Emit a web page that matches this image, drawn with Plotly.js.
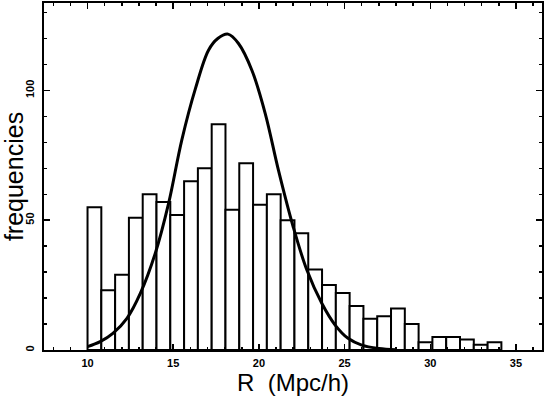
<!DOCTYPE html>
<html>
<head>
<meta charset="utf-8">
<script src="https://cdn.plot.ly/plotly-3.0.1.min.js"></script>
<style>
  body { margin: 0; background: #fff; }
  #plot { width: 545px; height: 396px; }
</style>
</head>
<body>
<div id="plot"></div>
<script>
// histogram bins (left edges, Mpc/h) and counts
var binLeft = [10.0, 10.805, 11.61, 12.415, 13.22, 14.025, 14.83, 15.635, 16.44, 17.245,
               18.05, 18.855, 19.66, 20.465, 21.27, 22.075, 22.88, 23.685, 24.49, 25.295,
               26.1, 26.905, 27.71, 28.515, 29.32, 30.125, 30.93, 31.735, 32.54, 33.345];
var counts = [55, 23, 29, 51, 60, 57, 52, 65, 70, 87,
              54, 72, 56, 60, 50, 45, 31, 25, 22, 17,
              12, 13, 16, 10, 3, 5, 5, 4, 2, 3];
var binWidth = 0.805;

// fitted curve, points
var curveX = [10, 10.74, 11.48, 12.3, 13.08, 13.95, 14.73, 15.5, 16.3, 17.06, 17.6, 18.2,
              18.81, 19.59, 20.37, 21.14, 22.0, 22.8, 23.67, 24.45, 25.2, 26.0, 27.0, 28.0];
var curveY = [1.3, 3.2, 6.4, 12.2, 21.8, 37.2, 56.5, 80.9, 100.8, 115.5, 120, 121.7,
              118.1, 107.8, 91.1, 69.3, 47.5, 30.8, 18, 9.6, 4.5, 1.9, 0.6, 0.1];

var bars = {
  type: 'bar',
  x: binLeft,
  y: counts,
  width: binWidth,
  offset: 0,
  marker: { color: '#ffffff', line: { color: '#000000', width: 2 } },
  hoverinfo: 'x+y'
};

var curve = {
  type: 'scatter',
  mode: 'lines',
  x: curveX,
  y: curveY,
  line: { color: '#000000', width: 3, shape: 'spline' }
};

var tickFont = { family: 'Liberation Sans, Arial, sans-serif', size: 11, color: '#000', weight: 'bold' };
var titleFamily = 'Liberation Sans, Arial, sans-serif';

var layout = {
  width: 545,
  height: 396,
  showlegend: false,
  paper_bgcolor: '#fff',
  plot_bgcolor: '#fff',
  margin: { l: 44, r: 3, t: 3, b: 46 },
  xaxis: {
    range: [7.46, 36.52],
    showgrid: false, zeroline: false,
    showline: true, linecolor: '#000', linewidth: 2, mirror: 'allticks',
    ticks: 'inside', ticklen: 6, tickwidth: 1.5, tickcolor: '#000',
    dtick: 5, tick0: 0,
    minor: { dtick: 1, ticks: 'inside', ticklen: 3, tickwidth: 1.5, tickcolor: '#000', showgrid: false },
    tickfont: tickFont,
    ticklabelstandoff: 2,
    title: { text: 'R\u00a0\u00a0(Mpc/h)', font: { family: titleFamily, size: 24, color: '#000' }, standoff: 1 }
  },
  yaxis: {
    range: [0, 133.7],
    showgrid: false, zeroline: false,
    showline: true, linecolor: '#000', linewidth: 2, mirror: 'allticks',
    ticks: 'inside', ticklen: 6, tickwidth: 1.5, tickcolor: '#000',
    dtick: 50, tick0: 0,
    minor: { dtick: 10, ticks: 'inside', ticklen: 3, tickwidth: 1.5, tickcolor: '#000', showgrid: false },
    tickangle: -90,
    tickfont: tickFont,
    ticklabelstandoff: 4,
    title: { text: 'frequencies', font: { family: titleFamily, size: 25, color: '#000' }, standoff: 0 }
  }
};

Plotly.newPlot('plot', [bars, curve], layout, { displayModeBar: false, staticPlot: true });
</script>
</body>
</html>
